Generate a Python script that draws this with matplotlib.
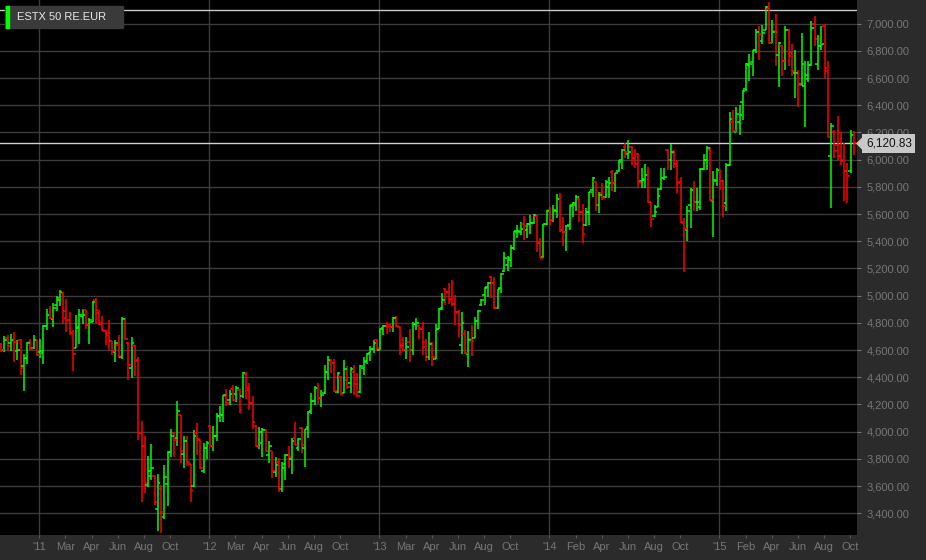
import numpy as np
import matplotlib.pyplot as plt
from matplotlib.patches import Rectangle, Polygon

plt.rcParams['font.family'] = ['Liberation Sans', 'DejaVu Sans']

# weekly OHLC, mid-Oct 2010 .. Oct 2015
bar_open = [
    4647, 4598, 4688, 4652, 4671, 4590, 4671, 4480, 4544, 4659,
    4617, 4671, 4585, 4578, 4774, 4860, 4831, 4929, 4971, 5020,
    4838, 4823, 4725, 4617, 4769, 4850, 4892, 4782, 4806, 4971,
    4875, 4800, 4739, 4726, 4665, 4584, 4640, 4549, 4825, 4653,
    4468, 4633, 4530, 3989, 3896, 3608, 3677, 3677, 3429, 3576,
    3370, 3613, 3847, 3989, 3952, 4124, 3837, 3933, 3761, 3601,
    3989, 3940, 3707, 3879, 4038, 3896, 3965, 4117, 4124, 4260,
    4235, 4314, 4277, 4309, 4259, 4427, 4321, 4210, 4043, 3896,
    3915, 4009, 3830, 3854, 3702, 3775, 3576, 3763, 3830, 3800,
    3955, 3877, 4024, 3877, 4031, 4154, 4227, 4318, 4245, 4286,
    4441, 4521, 4502, 4290, 4404, 4285, 4379, 4360, 4441, 4384,
    4294, 4465, 4521, 4580, 4605, 4673, 4600, 4763, 4778, 4782,
    4770, 4832, 4770, 4640, 4598, 4659, 4598, 4795, 4778, 4758,
    4659, 4549, 4654, 4536, 4758, 4906, 5046, 5029, 4975, 4942,
    4881, 4640, 4721, 4573, 4684, 4689, 4812, 4930, 5004, 5066,
    5140, 5090, 4906, 5053, 5182, 5226, 5263, 5349, 5470, 5465,
    5524, 5482, 5529, 5531, 5587, 5384, 5285, 5524, 5629, 5555,
    5622, 5710, 5482, 5465, 5519, 5666, 5666, 5710, 5612, 5519,
    5612, 5776, 5837, 5666, 5752, 5727, 5801, 5911, 5832, 5916,
    5997, 6095, 6040, 6095, 6009, 6038, 5845, 5850, 5886, 5685,
    5587, 5654, 5783, 5862, 6070, 5997, 6046, 5965, 5837, 5531,
    5480, 5669, 5774, 5686, 5652, 5931, 5999, 6072, 5694, 5840,
    5921, 5840, 5681, 5962, 6280, 6206, 6280, 6426, 6517, 6695,
    6719, 6805, 6939, 6870, 6956, 7110, 6858, 6946, 6768, 6834,
    6727, 6950, 6790, 6634, 6636, 6560, 6540, 6590, 6697, 7000,
    6700, 6833, 6980, 6650, 6028, 6200, 6110, 6030, 6000, 5920,
    5913, 6182,
]
bar_high = [
    4652, 4701, 4708, 4715, 4733, 4671, 4684, 4568, 4659, 4684,
    4708, 4676, 4684, 4782, 4904, 4922, 4949, 4995, 5039, 5025,
    4978, 4877, 4745, 4860, 4904, 4904, 4892, 4838, 4958, 4985,
    4892, 4854, 4751, 4820, 4665, 4677, 4707, 4844, 4832, 4657,
    4697, 4640, 4549, 4080, 3965, 3822, 3911, 3682, 3689, 3608,
    3756, 3854, 4019, 4001, 4228, 4124, 3965, 3965, 3763, 4014,
    4063, 3945, 3915, 3928, 4046, 4043, 4137, 4191, 4272, 4314,
    4304, 4345, 4338, 4314, 4441, 4436, 4358, 4264, 4051, 4036,
    4024, 4019, 3930, 3854, 3812, 3805, 3775, 3837, 3896, 3952,
    4070, 3955, 4031, 4021, 4151, 4286, 4335, 4355, 4306, 4490,
    4556, 4531, 4531, 4441, 4409, 4526, 4482, 4473, 4490, 4428,
    4490, 4546, 4580, 4629, 4673, 4684, 4763, 4787, 4807, 4795,
    4844, 4849, 4775, 4696, 4696, 4753, 4807, 4832, 4782, 4807,
    4684, 4733, 4659, 4795, 4906, 5016, 5058, 5090, 5115, 5004,
    4893, 4881, 4746, 4738, 4782, 4844, 4893, 4975, 5066, 5098,
    5145, 5140, 5052, 5164, 5324, 5295, 5374, 5477, 5519, 5543,
    5587, 5531, 5592, 5597, 5592, 5421, 5526, 5629, 5654, 5666,
    5744, 5752, 5580, 5519, 5666, 5690, 5739, 5720, 5671, 5646,
    5764, 5874, 5842, 5764, 5832, 5850, 5874, 5923, 5905, 5997,
    6082, 6119, 6144, 6102, 6082, 6046, 5935, 5965, 5948, 5690,
    5666, 5793, 5935, 5935, 6075, 6112, 6070, 5997, 5874, 5568,
    5662, 5791, 5840, 5791, 5938, 6043, 6097, 6090, 5913, 5938,
    5930, 5852, 5974, 6353, 6365, 6390, 6400, 6512, 6712, 6780,
    6810, 6963, 6981, 6988, 7127, 7159, 7024, 7073, 6866, 6841,
    6981, 6960, 6854, 6805, 6660, 6931, 6722, 6722, 7017, 7054,
    6919, 6980, 7000, 6722, 6268, 6220, 6322, 6207, 6121, 5974,
    6219, 6214,
]
bar_low = [
    4585, 4585, 4593, 4590, 4512, 4524, 4414, 4296, 4500, 4598,
    4610, 4553, 4544, 4495, 4745, 4826, 4769, 4885, 4922, 4794,
    4733, 4708, 4446, 4617, 4647, 4794, 4757, 4647, 4806, 4799,
    4782, 4739, 4640, 4603, 4567, 4510, 4542, 4535, 4677, 4377,
    4392, 4412, 3935, 3486, 3552, 3591, 3645, 3461, 3272, 3252,
    3355, 3456, 3817, 3817, 3896, 3768, 3736, 3751, 3486, 3596,
    3825, 3724, 3694, 3798, 3891, 3854, 3928, 4068, 4068, 4191,
    4198, 4223, 4215, 4137, 4245, 4240, 4156, 4019, 3884, 3871,
    3810, 3847, 3768, 3658, 3670, 3559, 3559, 3645, 3736, 3692,
    3901, 3860, 3840, 3737, 3950, 4127, 4196, 4203, 4183, 4280,
    4379, 4428, 4294, 4286, 4269, 4281, 4311, 4281, 4269, 4257,
    4286, 4416, 4497, 4522, 4575, 4595, 4598, 4713, 4721, 4733,
    4733, 4770, 4566, 4590, 4536, 4512, 4561, 4746, 4684, 4561,
    4517, 4524, 4482, 4536, 4758, 4893, 4930, 4935, 4925, 4782,
    4696, 4573, 4573, 4475, 4556, 4689, 4758, 4925, 4930, 4992,
    4980, 4901, 4901, 5016, 5177, 5182, 5213, 5337, 5426, 5445,
    5408, 5421, 5450, 5524, 5318, 5274, 5274, 5519, 5519, 5543,
    5568, 5470, 5367, 5328, 5482, 5580, 5622, 5538, 5384, 5510,
    5519, 5727, 5622, 5605, 5703, 5720, 5720, 5769, 5764, 5911,
    5930, 6009, 6004, 5960, 5935, 5788, 5788, 5788, 5678, 5506,
    5575, 5650, 5780, 5850, 5923, 5923, 5935, 5752, 5531, 5176,
    5400, 5498, 5620, 5620, 5628, 5925, 5926, 5694, 5430, 5804,
    5779, 5579, 5620, 5950, 6200, 6200, 6182, 6292, 6505, 6580,
    6614, 6785, 6736, 6854, 6951, 6849, 6855, 6688, 6531, 6614,
    6658, 6690, 6614, 6451, 6390, 6540, 6242, 6574, 6690, 6833,
    6660, 6808, 6599, 6168, 5644, 6010, 6000, 5962, 5693, 5680,
    5905, 6035,
]
bar_close = [
    4603, 4676, 4627, 4676, 4659, 4598, 4470, 4544, 4652, 4610,
    4671, 4561, 4592, 4774, 4855, 4836, 4912, 4985, 5027, 4885,
    4823, 4725, 4573, 4765, 4855, 4858, 4782, 4823, 4953, 4892,
    4794, 4751, 4714, 4665, 4591, 4653, 4554, 4825, 4682, 4493,
    4653, 4517, 3989, 3891, 3626, 3714, 3731, 3481, 3626, 3407,
    3670, 3847, 3965, 3940, 4154, 3861, 3933, 3775, 3572, 3965,
    3945, 3730, 3879, 3920, 3896, 3965, 4117, 4124, 4267, 4210,
    4279, 4230, 4323, 4161, 4431, 4309, 4210, 4068, 3896, 4001,
    4009, 3854, 3896, 3707, 3753, 3579, 3731, 3830, 3817, 3930,
    3905, 3946, 3901, 4017, 4146, 4227, 4318, 4245, 4269, 4436,
    4526, 4502, 4301, 4433, 4276, 4458, 4330, 4458, 4350, 4262,
    4482, 4514, 4571, 4605, 4654, 4612, 4758, 4775, 4770, 4770,
    4832, 4775, 4622, 4600, 4622, 4598, 4795, 4802, 4758, 4622,
    4549, 4647, 4549, 4758, 4901, 4967, 5029, 4967, 4942, 4881,
    4782, 4800, 4580, 4672, 4664, 4812, 4886, 4967, 5058, 5090,
    5090, 4906, 5049, 5159, 5275, 5280, 5349, 5472, 5475, 5489,
    5514, 5526, 5531, 5590, 5384, 5279, 5524, 5622, 5555, 5629,
    5710, 5482, 5465, 5514, 5661, 5678, 5727, 5612, 5450, 5612,
    5759, 5862, 5666, 5739, 5720, 5837, 5832, 5832, 5899, 5984,
    6070, 6058, 6058, 6009, 5965, 5837, 5855, 5886, 5690, 5563,
    5612, 5734, 5862, 5874, 5997, 6058, 5965, 5832, 5538, 5489,
    5625, 5774, 5686, 5690, 5930, 5999, 6084, 5706, 5852, 5921,
    5840, 5657, 5962, 6297, 6210, 6336, 6330, 6507, 6702, 6705,
    6805, 6939, 6927, 6935, 7122, 6858, 6939, 6939, 6858, 6727,
    6951, 6760, 6650, 6639, 6550, 6700, 6620, 6697, 6968, 6890,
    6833, 6850, 6673, 6170, 6244, 6060, 6030, 5990, 5920, 5880,
    6182, 6120.83,
]

year_labels = ["'11", "'12", "'13", "'14", "'15"]
month_labels = [["Mar", "Apr", "Jun", "Aug", "Oct"],
                ["Mar", "Apr", "Jun", "Aug", "Oct"],
                ["Mar", "Apr", "Jun", "Aug", "Oct"],
                ["Feb", "Apr", "Jun", "Aug", "Oct"],
                ["Feb", "Apr", "Jun", "Aug", "Oct"]]
series_name = "ESTX 50 RE.EUR"
ref_line = 7104
last_price = bar_close[-1]

W, H = 926, 560
fig = plt.figure(figsize=(W / 100, H / 100), dpi=100, facecolor='#2b2b2b')
ax = fig.add_axes([0, 25 / H, 857 / W, 535 / H], facecolor='black')

o = np.array(bar_open)
hi = np.array(bar_high)
lo = np.array(bar_low)
c = np.array(bar_close)
x = np.arange(len(c))
cols = np.where(c >= o, '#00ff00', '#ff0000')

# grid first
for v in range(3400, 7001, 200):
    ax.axhline(v, color='#3c3c3c', lw=1, zorder=0)
year_pos = [11.72 + 52.03 * k for k in range(len(year_labels))]
for yp in year_pos:
    ax.axvline(yp, color='#3c3c3c', lw=1, zorder=0)
ax.axhline(ref_line, color='#c8c8c8', lw=1, zorder=1)
ax.axhline(last_price, color='#d0d0d0', lw=1, zorder=1)

ax.vlines(x, lo, hi, colors=cols, lw=1.1, zorder=2)
ax.hlines(o, x - 0.8, x, colors=cols, lw=1.1, zorder=2)
ax.hlines(c, x, x + 0.8, colors=cols, lw=1.1, zorder=2)

ax.set_xlim(-0.306, -0.306 + 857 / 3.268)
ax.set_ylim(3240, 7174)

ticks, labels = [], []
for k, yp in enumerate(year_pos):
    ticks.append(yp)
    labels.append(year_labels[k])
    for j, m in enumerate(month_labels[k]):
        ticks.append(yp + 8 * (j + 1))
        labels.append(m)
ax.set_xticks(ticks)
ax.set_xticklabels(labels)
ax.yaxis.tick_right()
ax.set_yticks(range(3400, 7001, 200))
ax.set_yticklabels(['{:,.2f}'.format(v) for v in range(3400, 7001, 200)])
ax.tick_params(axis='x', colors='#5a5a5a', labelcolor='#767676', labelsize=8,
               length=2, pad=3)
ax.tick_params(axis='y', colors='#767676', labelsize=8, length=3, pad=4)
for s in ax.spines.values():
    s.set_visible(False)

# legend box
fig.add_artist(Rectangle((5 / W, 1 - 28 / H), 118 / W, 22 / H,
                         transform=fig.transFigure, color='#3a3a3a', zorder=5))
fig.add_artist(Rectangle((6 / W, 1 - 28 / H), 3 / W, 22 / H,
                         transform=fig.transFigure, color='#00ff00', zorder=6))
fig.text(17 / W, 1 - 17 / H, series_name, va='center', ha='left',
         color='#e6e6e6', fontsize=8, zorder=7)

# last price tag
py = 24 + (7000 - last_price) / 200 * 27.2
fig.add_artist(Polygon([(857 / W, 1 - py / H), (863 / W, 1 - (py - 6) / H),
                        (863 / W, 1 - (py + 6) / H)],
                       closed=True, transform=fig.transFigure,
                       color='#c8c8c8', zorder=5))
fig.text(866 / W, 1 - py / H, '{:,.2f}'.format(last_price), va='center',
         ha='left', color='#111111', fontsize=8.5, zorder=7,
         bbox=dict(boxstyle='square,pad=0.3', fc='#c8c8c8', ec='none'))

fig.savefig('out.png', dpi=100, facecolor=fig.get_facecolor())
